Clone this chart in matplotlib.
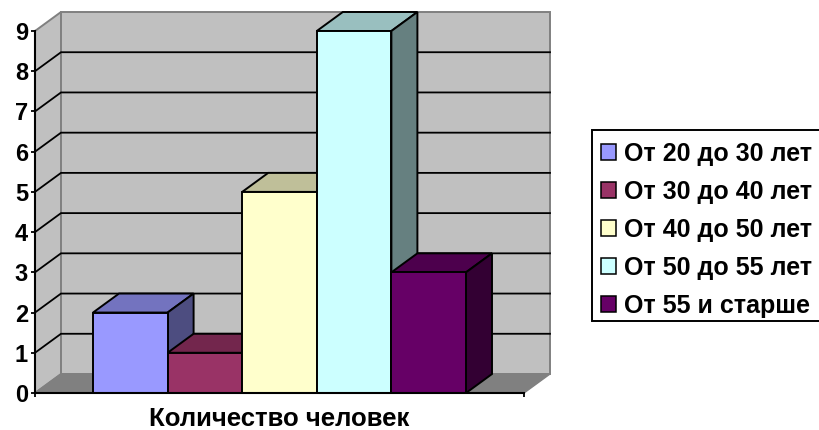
import matplotlib
matplotlib.use("Agg")
import matplotlib.pyplot as plt
from matplotlib.patches import Patch, Polygon, Rectangle
from matplotlib.colors import to_rgb

labels = ["От 20 до 30 лет", "От 30 до 40 лет", "От 40 до 50 лет", "От 50 до 55 лет", "От 55 и старше"]
values = [2, 1, 5, 9, 3]
colors = ["#9999FF", "#993366", "#FFFFCC", "#CCFFFF", "#660066"]
y_ticks = list(range(0, 10))
x_label = "Количество человек"

W, H = 819, 430
plt.rcParams["font.family"] = ["Liberation Sans", "DejaVu Sans"]
plt.rcParams["font.weight"] = "bold"

fig = plt.figure(figsize=(W / 100, H / 100), dpi=100)

# axes box in pixels: front plane of the fake 3d chart
left, right, top, bottom = 35, 524, 31, 393
ax = fig.add_axes([left / W, 1 - bottom / H, (right - left) / W, (bottom - top) / H])
ax.patch.set_visible(False)

bar_w = 74.6
unit = (bottom - top) / 9
start = (93 - left) / bar_w
ax.set_xlim(-start, (right - left) / bar_w - start)
ax.set_ylim(0, 9)

# depth of the 3d effect in data units
dx = 26 / bar_w
dy = 19 / unit
x0, x1 = ax.get_xlim()

def poly(points, face, edge="black", lw=1.4, z=2):
    ax.add_patch(Polygon(points, closed=True, facecolor=face, edgecolor=edge, linewidth=lw,
                         joinstyle="miter", clip_on=False, zorder=z))

def shade(color, k):
    return tuple(c * k for c in to_rgb(color))

# walls and floor
wall = "#C0C0C0"
gray = "#808080"
poly([(x0, 0), (x0 + dx, dy), (x0 + dx, 9 + dy), (x0, 9)], wall, edge=gray, lw=1.4, z=1)
poly([(x0 + dx, dy), (x1 + dx, dy), (x1 + dx, 9 + dy), (x0 + dx, 9 + dy)], wall, edge=gray, lw=1.4, z=1)
poly([(x0, 0), (x0 + dx, dy), (x1 + dx, dy), (x1, 0)], gray, edge=gray, lw=1, z=1)

# gridlines
for v in y_ticks[1:-1]:
    ax.plot([x0, x0 + dx, x1 + dx], [v, v + dy, v + dy], color="black", lw=1.3, clip_on=False, zorder=1.5,
            solid_joinstyle="miter")

# bars, left to right so the next bar hides the side of the previous one
for i, (val, col) in enumerate(zip(values, colors)):
    poly([(i, val), (i + dx, val + dy), (i + 1 + dx, val + dy), (i + 1, val)], shade(col, 0.75), z=2 + i)
    poly([(i + 1, 0), (i + 1 + dx, dy), (i + 1 + dx, val + dy), (i + 1, val)], shade(col, 0.5), z=2 + i)
    ax.add_patch(Rectangle((i, 0), 1, val, facecolor=col, edgecolor="black", linewidth=1.4,
                           clip_on=False, zorder=2 + i))

# axes
for s in ["top", "right"]:
    ax.spines[s].set_visible(False)
for s in ["left", "bottom"]:
    ax.spines[s].set_linewidth(1.5)
    ax.spines[s].set_zorder(10)
ax.set_yticks(y_ticks)
ax.set_xticks([x0, x1])
ax.set_xticklabels([])
ax.tick_params(axis="both", length=3, width=1.3, direction="out", zorder=10)
ax.tick_params(axis="y", labelsize=17, pad=2)
ax.set_xlabel(x_label, fontsize=18.5, fontweight="bold", labelpad=3.5)

# legend frame runs off the right edge in the reference, so it is drawn apart
fig.add_artist(Rectangle((592 / W, 1 - 321 / H), 235 / W, 191 / H, transform=fig.transFigure,
                         facecolor="white", edgecolor="black", linewidth=1.4))
handles = [Patch(facecolor=c, edgecolor="black", linewidth=1.1) for c in colors]
leg = fig.legend(handles, labels, loc="upper left", bbox_to_anchor=(592 / W, 1 - 133 / H),
                 borderaxespad=0, fontsize=18, labelspacing=0.56, handlelength=0.6, handleheight=0.6,
                 handletextpad=0.33, borderpad=0.36, frameon=False)

fig.savefig("out.png", dpi=100)
